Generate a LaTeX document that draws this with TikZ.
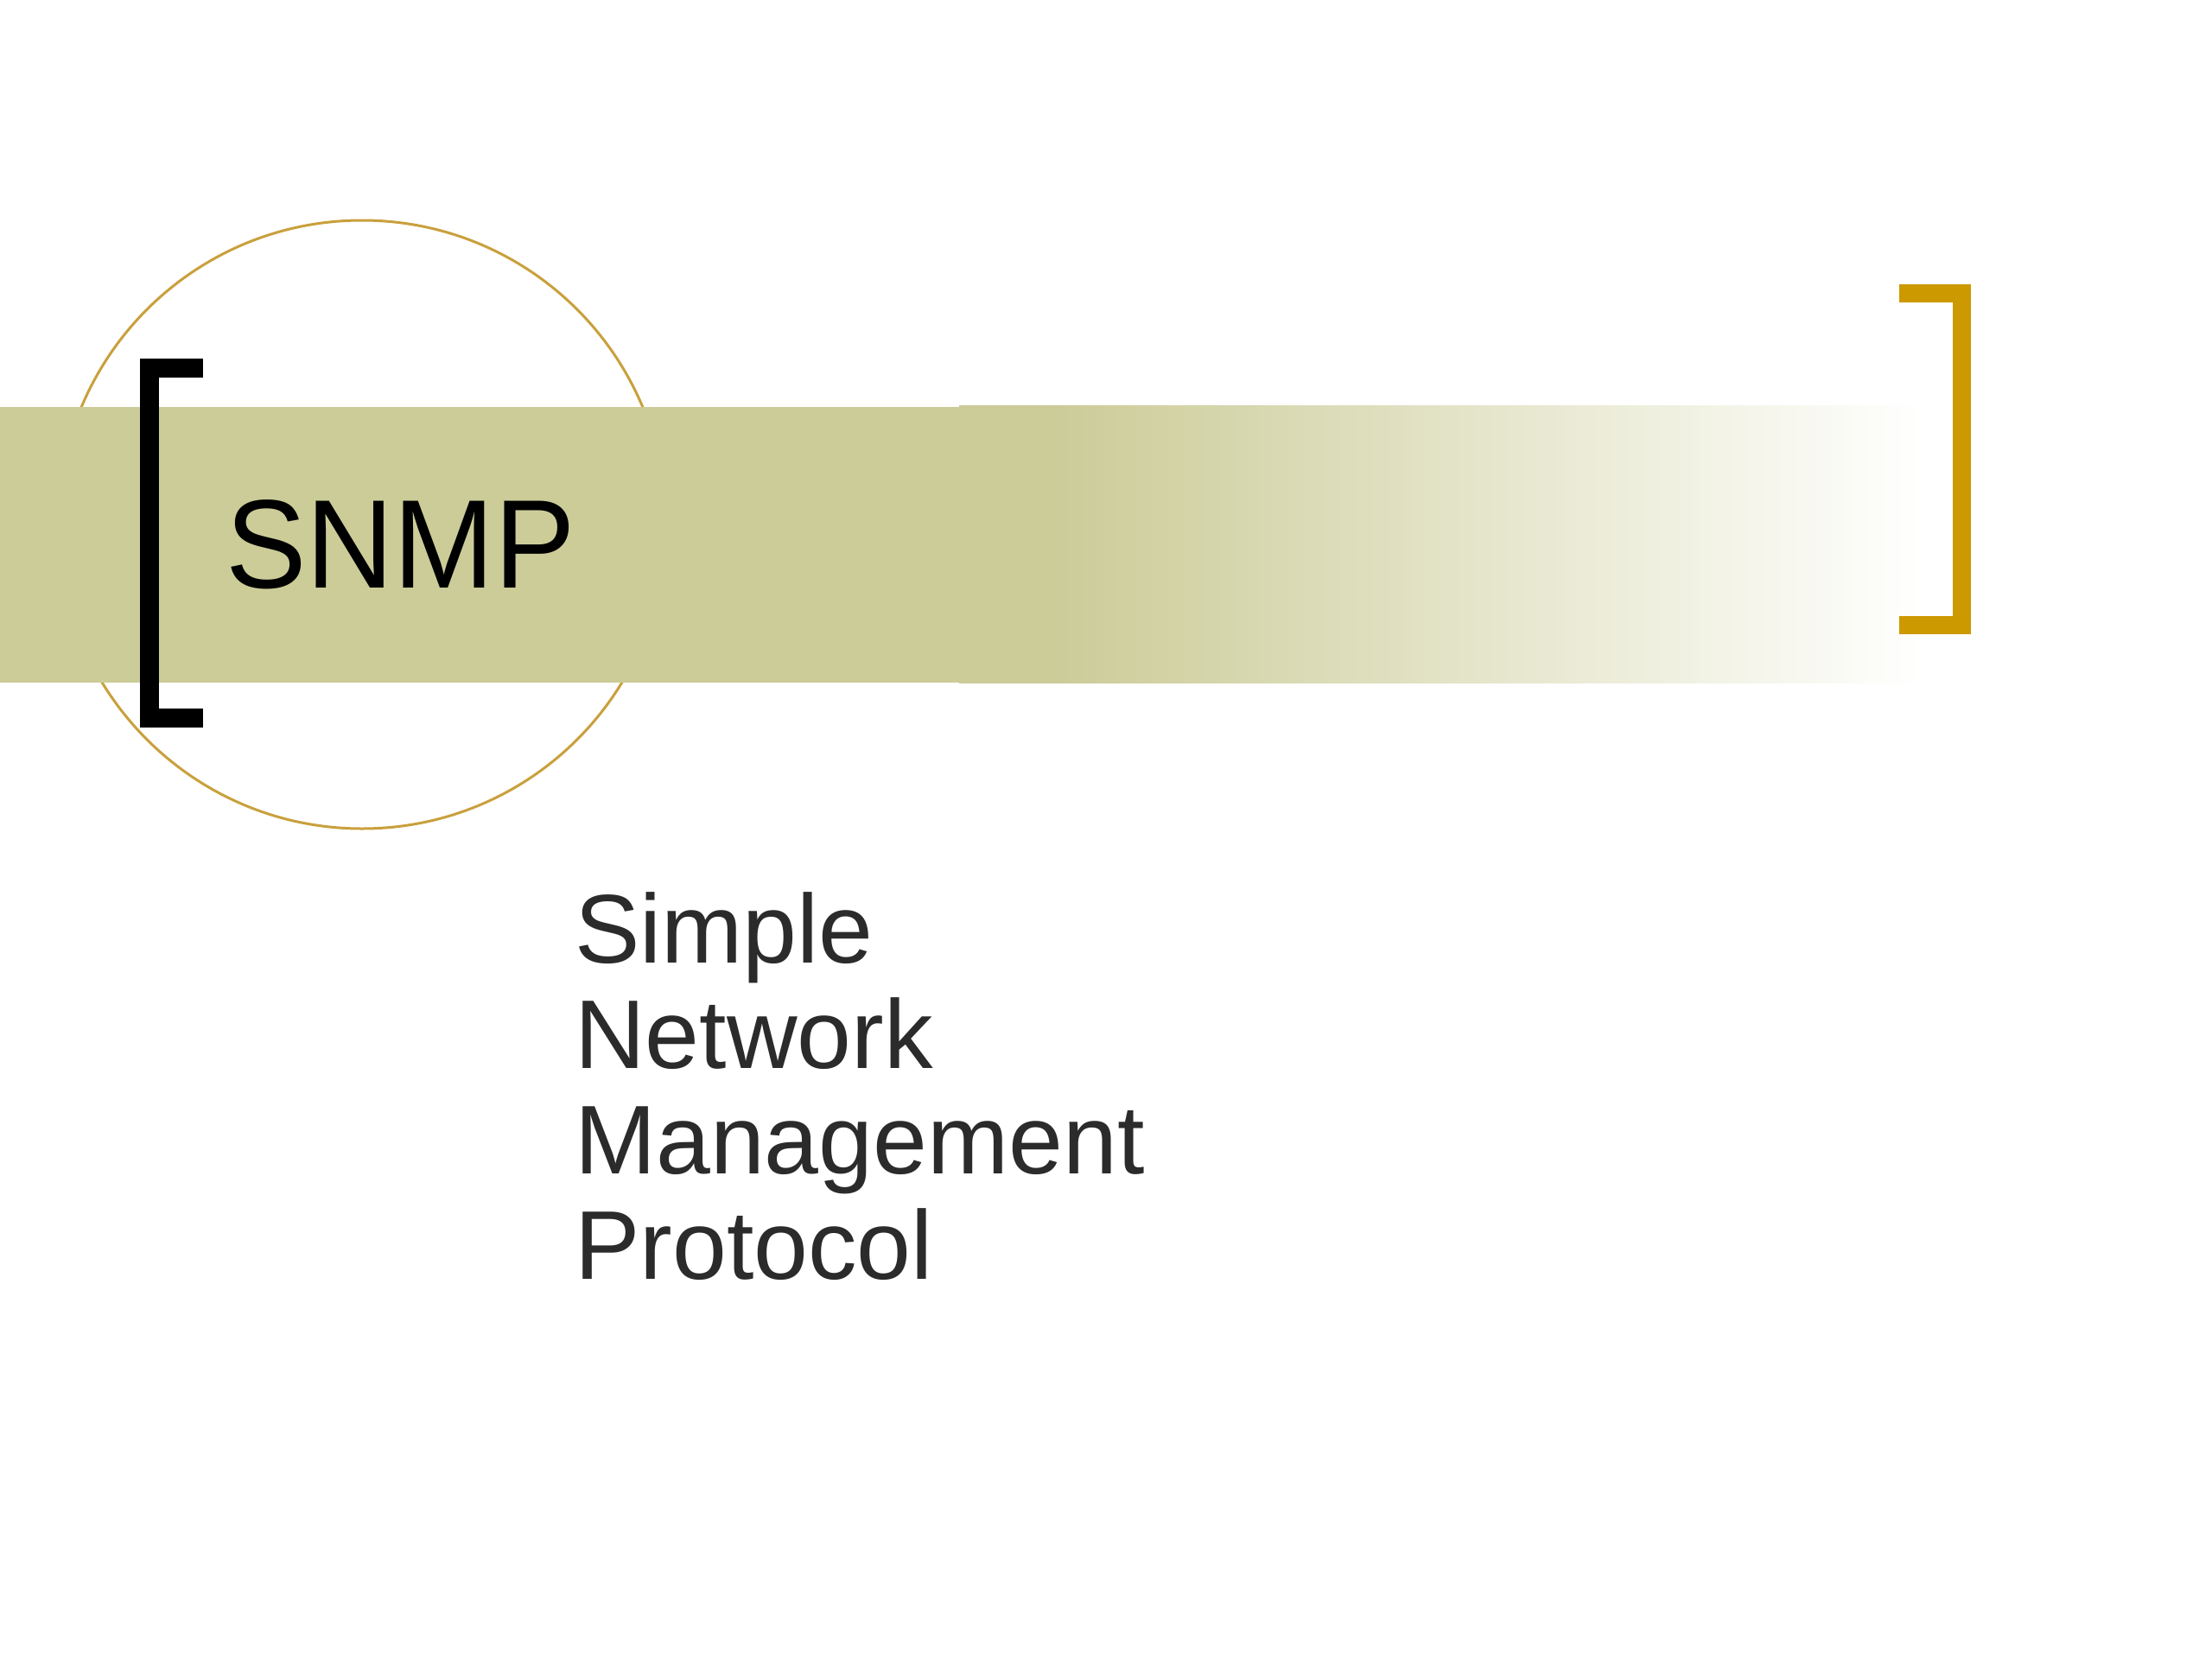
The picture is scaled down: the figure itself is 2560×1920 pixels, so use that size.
\documentclass[tikz,border=0pt]{standalone}
\usepackage{fontspec}
\setmainfont{Liberation Sans}
\definecolor{bandc}{HTML}{CCCC99}
\definecolor{ringc}{HTML}{C9A03C}
\definecolor{goldc}{HTML}{CC9900}
\definecolor{subc}{HTML}{2B2B2B}
\pgfdeclarehorizontalshading{bandfade}{100bp}{color(0bp)=(bandc); color(25bp)=(bandc); color(29.5bp)=(bandc); color(69bp)=(white); color(75bp)=(white); color(100bp)=(white)}
\tikzset{
  subline/.style={anchor=base west, inner sep=0pt, text=subc, font=\fontsize{113}{122}\selectfont},
  titletext/.style={anchor=base west, inner sep=0pt, text=black, font=\fontsize{146}{175}\selectfont, xscale=0.96, transform shape},
  bracketline/.style={line width=22pt, line cap=butt, line join=miter}
}
\begin{document}
\begin{tikzpicture}[x=1pt,y=-1pt]
\useasboundingbox[fill=white] (0,0) rectangle (2560,1920);
% ring
\draw[ringc, line width=3pt] (419,607) circle[radius=352];
% band
\fill[bandc] (0,471) rectangle (1112,790);
\shade[shading=bandfade] (1110,469) rectangle (2380,790);
% brackets
\draw[bracketline, black] (235,426) -- (172.5,426) -- (172.5,831) -- (235,831);
\draw[bracketline, goldc, line width=21pt] (2198,339) -- (2270.5,339) -- (2270.5,723) -- (2198,723);
% texts
\node[titletext] (title) at (261,680) {SNMP};
\node[subline] (l1) at (665,1114) {Simple};
\node[subline] (l2) at (665,1236) {Network};
\node[subline] (l3) at (665,1358) {Management};
\node[subline] (l4) at (665,1480) {Protocol};
\end{tikzpicture}
\end{document}
